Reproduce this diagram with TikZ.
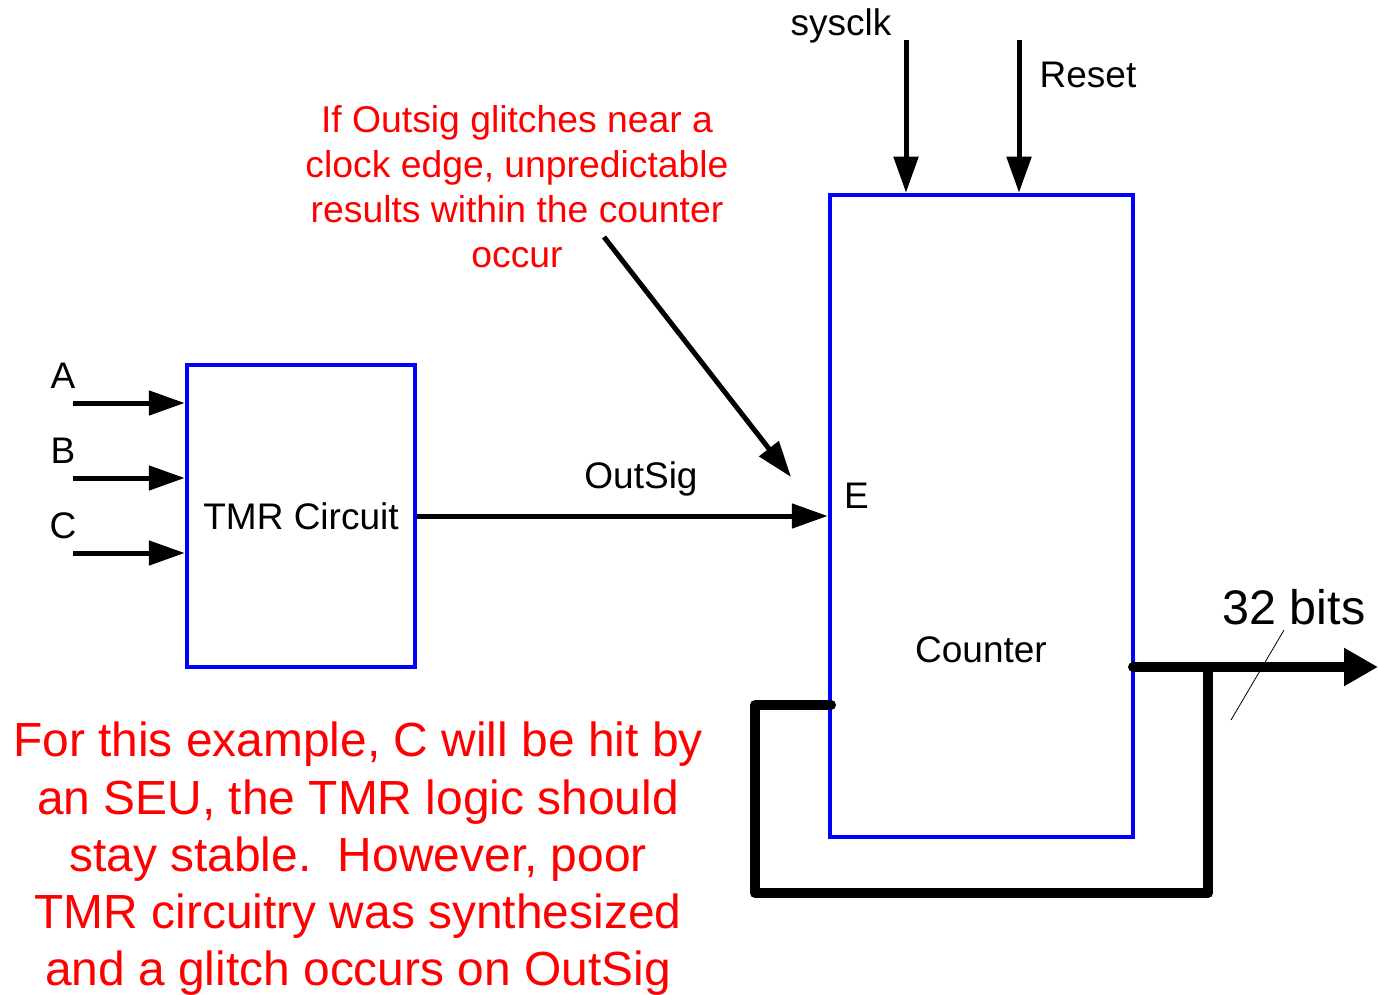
\documentclass[tikz,border=0pt]{standalone}
\usepackage{fontspec}
\setmainfont{Liberation Sans}
\usetikzlibrary{arrows.meta}
\definecolor{bblue}{RGB}{0,0,255}
\definecolor{rred}{RGB}{255,0,0}
\begin{document}
\begin{tikzpicture}[x=1pt,y=-1pt,
  blk/.style={draw=bblue,line width=4.5pt,inner sep=0pt},
  sig/.style={line width=5pt,-{Triangle[length=36pt,width=24pt]}},
  bus/.style={line width=10pt,line join=round,line cap=round},
  lab/.style={font=\fontsize{37}{44}\selectfont,inner sep=0pt},
  note/.style={text=rred,align=center,inner sep=0pt}]
\useasboundingbox (0,0) rectangle (1378,995);
% blocks
\node[blk,minimum width=228pt,minimum height=302pt,lab] (tmr) at (301,516) {TMR Circuit};
\node[blk,minimum width=303pt,minimum height=642pt] (cnt) at (981.5,516) {};
\node[lab] (cntlab) at (981,650) {Counter};
\node[lab,anchor=west] (elab) at (844,496) {E};
% inputs
\coordinate (inA) at (73,403);
\coordinate (inB) at (73,478);
\coordinate (inC) at (73,553);
\node[lab] (la) at (63,376) {A};
\node[lab] (lb) at (63,451) {B};
\node[lab] (lc) at (63,526) {C};
\draw[sig] (inA) -- (inA -| tmr.west);
\draw[sig] (inB) -- (inB -| tmr.west);
\draw[sig] (inC) -- (inC -| tmr.west);
% outsig
\draw[sig] (tmr.east) -- (cnt.west);
\node[lab] (osl) at (641,479) {OutSig};
% clock and reset
\coordinate (clk) at (906,40);
\coordinate (rst) at (1019,40);
\draw[sig] (clk) -- (clk |- cnt.north);
\draw[sig] (rst) -- (rst |- cnt.north);
\node[lab] (clkl) at (841,26) {sysclk};
\node[lab] (rstl) at (1088,75) {Reset};
% annotation
\node[note,font=\fontsize{37.3}{45}\selectfont] (n1) at (517,187) {If Outsig glitches near a\\clock edge, unpredictable\\results within the counter\\occur};
\coordinate (n1s) at (604,237);
\coordinate (n1e) at (791,477);
\draw[sig] (n1s) -- (n1e);
% output bus
\coordinate (outS) at (1133,667);
\coordinate (outE) at (1378,667);
\coordinate (fbT) at (1208,667);
\coordinate (fbIn) at (831,705);
\draw[line width=10pt,line cap=round,-{Triangle[length=34pt,width=36pt]}] (outS) -- (outE);
\draw[bus] (fbT) -- (1208,893) -- (755,893) -- (755,705) -- (fbIn);
\coordinate (sl1) at (1284,630);
\coordinate (sl2) at (1231,720);
\draw[line width=0.8pt] (sl1) -- (sl2);
\node[inner sep=0pt,font=\fontsize{48.5}{54}\selectfont] (bits) at (1294,607) {32 bits};
% bottom note
\node[note,font=\fontsize{47.9}{57.3}\selectfont] (n2) at (358,859) {For this example, C will be hit by\\an SEU, the TMR logic should\\stay stable.\ \ However, poor\\TMR circuitry was synthesized\\and a glitch occurs on OutSig};
\end{tikzpicture}
\end{document}
